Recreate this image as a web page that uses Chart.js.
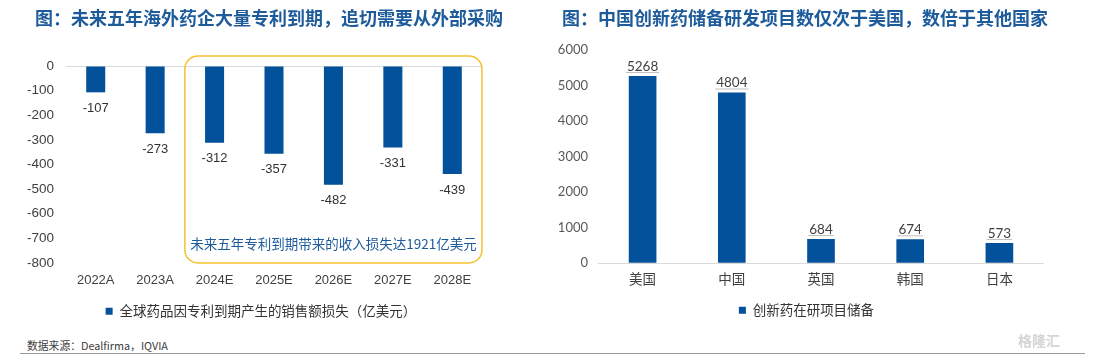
<!DOCTYPE html>
<html><head><meta charset="utf-8">
<script src="https://cdn.jsdelivr.net/npm/chart.js@4/dist/chart.umd.min.js"></script>
<style>
html,body{margin:0;padding:0;background:#fff;}
body{width:1095px;height:357px;position:relative;overflow:hidden;font-family:"Noto Sans CJK SC","Liberation Sans",sans-serif;}
.title{position:absolute;top:5px;font-size:18px;font-weight:bold;color:#1D5B9B;white-space:nowrap;line-height:24px;}
#src{position:absolute;left:27px;top:337px;font-size:10.8px;color:#404040;}
#line{position:absolute;left:20px;top:353px;width:1065px;height:1px;background:#999;}
#wm{position:absolute;left:1018px;top:330px;font-size:14px;font-weight:bold;color:#D4D4D4;}
#c1{position:absolute;left:0;top:0;}
#c2{position:absolute;left:545px;top:0;}
</style></head><body>
<canvas id="c1" width="545" height="336"></canvas>
<canvas id="c2" width="550" height="335"></canvas>
<div class="title" style="left:35px">图：未来五年海外药企大量专利到期，追切需要从外部采购</div>
<div class="title" style="left:562px">图：中国创新药储备研发项目数仅次于美国，数倍于其他国家</div>
<div id="src">数据来源：Dealfirma，IQVIA</div>
<div id="wm">格隆汇</div>
<div id="line"></div>
<script>
const years = ["2022A","2023A","2024E","2025E","2026E","2027E","2028E"];
const losses = [-107,-273,-312,-357,-482,-331,-439];
const lossTicks = [0,-100,-200,-300,-400,-500,-600,-700,-800];
const countries = ["美国","中国","英国","韩国","日本"];
const pipelines = [5268,4804,684,674,573];
const pipeTicks = [0,1000,2000,3000,4000,5000,6000];
const lossLegend = "全球药品因专利到期产生的销售额损失（亿美元）";
const pipeLegend = "创新药在研项目储备";
const boxNote = "未来五年专利到期带来的收入损失达1921亿美元";

const BLUE = "#02519A";
const CJK = '"Noto Sans CJK SC", sans-serif';

function legendShift(dx){
  return {id:'legendShift', afterLayout(chart){ if(chart.legend){ chart.legend.left += dx; chart.legend.right += dx; } }};
}

const leftLabels = {
  id:'leftLabels',
  afterDatasetsDraw(chart){
    const ctx = chart.ctx;
    const meta = chart.getDatasetMeta(0);
    const x = chart.scales.x, y = chart.scales.y;
    const xl = (x.getPixelForValue(1)+x.getPixelForValue(2))/2;
    const xr = chart.chartArea.right;
    const yt = y.getPixelForValue(0) - 10, yb = y.getPixelForValue(-800);
    ctx.save();
    ctx.strokeStyle = "#F6C12E"; ctx.lineWidth = 1.5;
    ctx.beginPath(); ctx.roundRect(xl, yt, xr-xl, yb-yt, 13); ctx.stroke();
    ctx.fillStyle = "#1D5B9B"; ctx.font = '13.5px ' + CJK;
    ctx.textAlign='center'; ctx.textBaseline='middle';
    ctx.fillText(boxNote, (xl+xr)/2, y.getPixelForValue(-722));
    ctx.fillStyle = "#333"; ctx.font = '13px "Liberation Sans", sans-serif';
    meta.data.forEach((b,i)=>{ ctx.fillText(String(losses[i]), b.x, b.y + 16); });
    ctx.restore();
  }
};

const rightLabels = {
  id:'rightLabels',
  afterDatasetsDraw(chart){
    const ctx = chart.ctx;
    const meta = chart.getDatasetMeta(0);
    ctx.save();
    ctx.font = '13.5px "Lato", sans-serif';
    ctx.textAlign='center'; ctx.textBaseline='middle';
    meta.data.forEach((b,i)=>{
      const t = String(pipelines[i]);
      const w = ctx.measureText(t).width;
      ctx.fillStyle = "#404040";
      ctx.fillText(t, b.x, b.y - 9.5);
      ctx.strokeStyle = "#BFBFBF"; ctx.lineWidth = 1;
      ctx.beginPath(); ctx.moveTo(b.x - w/2 - 1, b.y - 3.5); ctx.lineTo(b.x + w/2 + 1, b.y - 3.5); ctx.stroke();
    });
    ctx.restore();
  }
};

function legendOpts(pad){
  return {display:true, position:'bottom',
    labels:{boxWidth:7, boxHeight:7, color:'#333', font:{size:13.5, family:CJK}, padding:pad}};
}

new Chart(document.getElementById('c1'), {
  type:'bar',
  data:{labels:years, datasets:[{label:lossLegend, data:losses, backgroundColor:BLUE, borderWidth:0,
    barPercentage:0.32, categoryPercentage:1}]},
  options:{responsive:false, animation:false,
    layout:{padding:{left:0,right:63,top:66,bottom:8}},
    plugins:{legend:legendOpts(6), tooltip:{enabled:false}},
    scales:{
      x:{position:'bottom', grid:{display:false, drawTicks:false}, border:{display:false},
        ticks:{color:'#404040', font:{size:13, family:'"Liberation Sans", sans-serif'}, padding:10}},
      y:{min:-800, max:0,
        afterFit(s){ s.width = 66; },
        afterBuildTicks(s){ s.ticks = lossTicks.map(v=>({value:v})); },
        grid:{drawTicks:false, color:(c)=> c.tick && c.tick.value===0 ? '#D9D9D9':'transparent', lineWidth:1},
        border:{display:false},
        ticks:{color:'#404040', font:{size:13.5, family:'"Liberation Sans", sans-serif'}, padding:12,
          callback:(v)=>String(v)}}
    }},
  plugins:[leftLabels, legendShift(20)]
});

new Chart(document.getElementById('c2'), {
  type:'bar',
  data:{labels:countries, datasets:[{label:pipeLegend, data:pipelines, backgroundColor:BLUE, borderWidth:0,
    barPercentage:0.31, categoryPercentage:1}]},
  options:{responsive:false, animation:false,
    layout:{padding:{left:0,right:51,top:50,bottom:8}},
    plugins:{legend:legendOpts(10), tooltip:{enabled:false}},
    scales:{
      x:{grid:{display:false, drawTicks:false}, border:{display:false},
        ticks:{color:'#404040', font:{size:13.5, family:CJK}, padding:7}},
      y:{min:0, max:6000,
        afterFit(s){ s.width = 53; },
        afterBuildTicks(s){ s.ticks = pipeTicks.map(v=>({value:v})); },
        grid:{drawTicks:false, color:(c)=> c.tick && c.tick.value===0 ? '#D9D9D9':'transparent'},
        border:{display:false},
        ticks:{color:'#595959', font:{size:13, family:'"Lato", sans-serif'}, padding:10,
          callback:(v)=>String(v)}}
    }},
  plugins:[rightLabels, legendShift(12)]
});
</script>
</body></html>
